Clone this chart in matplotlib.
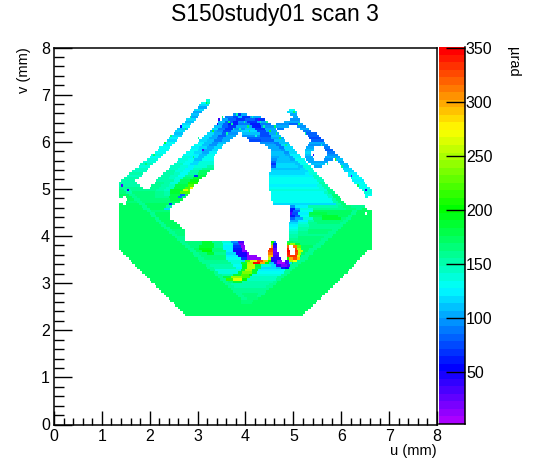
import colorsys

import numpy as np
import matplotlib
matplotlib.use("Agg")
import matplotlib.pyplot as plt
from matplotlib.colors import ListedColormap
from matplotlib.ticker import MultipleLocator

plt.rcParams['font.family'] = ['Liberation Sans', 'DejaVu Sans']

# Values, row by row. Each row covers the 0.05 mm below v.
# Row format: u0, value, u1, value, u2 ... with None for an empty gap.
X = None
rows_top = [
    (6.90, [3.16, 135, 3.27]),
    (6.85, [3.08, 130, 3.16, 150, 3.27]),
    (6.80, [3.04, 120, 3.24]),
    (6.75, [3.00, 105, 3.19]),
    (6.70, [2.95, 115, 3.14, X, 4.90, 130, 5.05]),
    (6.65, [2.91, 100, 3.10, X, 4.88, 115, 5.08]),
    (6.60, [2.86, 110, 3.05, X, 3.72, 95, 3.80, 70, 3.90, 100, 4.02, X, 4.95, 100, 5.08]),
    (6.55, [2.82, 105, 3.01, X, 3.58, 90, 3.75, 75, 3.85, 110, 3.95, 70, 4.10, 105, 4.32, X, 5.00, 105, 5.10]),
    (6.50, [2.77, 118, 2.96, X, 3.50, 100, 3.65, 80, 3.80, 65, 4.00, 85, 4.20, 70, 4.40, X, 4.95, 95, 5.12]),
    (6.45, [2.73, 110, 2.92, X, 3.44, 110, 3.58, 85, 3.72, 60, 3.85, 95, 4.05, 65, 4.25, 105, 4.47, X, 4.80, 100, 5.13]),
    (6.40, [2.68, 115, 2.87, X, 3.40, 105, 3.52, 80, 3.65, 60, 3.85, 90, 4.10, 60, 4.30, 90, 4.53, X, 4.63, 95, 4.90, 85, 5.10, X, 5.12, 100, 5.20]),
    (6.35, [2.63, 122, 2.84, X, 3.35, 110, 3.50, 85, 3.62, 65, 3.80, 100, 4.15, 62, 4.35, 95, 4.60, X, 4.62, 100, 4.90, X, 5.08, 95, 5.27]),
    (6.30, [2.58, 110, 2.79, X, 3.31, 115, 3.45, 90, 3.58, 70, 3.75, 95, 4.00, 110, 4.20, 70, 4.40, 105, 4.65, X, 4.68, 90, 4.80, X, 5.14, 100, 5.32]),
    (6.25, [2.54, 118, 2.75, X, 3.26, 105, 3.40, 95, 3.55, 75, 3.70, 100, 3.90, 120, 4.25, 72, 4.45, 100, 4.66, X, 5.20, 90, 5.38]),
    (6.20, [2.49, 112, 2.70, X, 3.20, 115, 3.35, 100, 3.50, 80, 3.65, 95, 3.85, X, 3.92, 110, 4.30, 75, 4.50, 105, 4.71, X, 5.26, 80, 5.50]),
    (6.15, [2.45, 120, 2.66, X, 3.15, 120, 3.30, 105, 3.45, 85, 3.60, 100, 3.80, X, 3.95, 95, 4.30, 78, 4.55, 110, 4.75, X, 5.30, 85, 5.53]),
    (6.10, [2.40, 125, 2.61, X, 3.10, 115, 3.25, 100, 3.40, 88, 3.55, 105, 3.73, X, 4.02, 85, 4.35, 80, 4.55, 105, 4.80, X, 5.34, 75, 5.58]),
    (6.05, [2.36, 120, 2.57, X, 3.05, 120, 3.20, 108, 3.35, 90, 3.50, 100, 3.66, X, 4.08, 75, 4.35, 85, 4.60, 110, 4.85, X, 5.38, 85, 5.63]),
    (6.00, [2.31, 128, 2.52, X, 2.99, 125, 3.15, 110, 3.30, 95, 3.45, 110, 3.59, X, 4.30, 95, 4.60, 88, 4.70, 112, 4.89, X, 5.33, 100, 5.68]),
    (5.95, [2.27, 122, 2.48, X, 2.94, 130, 3.10, 112, 3.25, 98, 3.40, 115, 3.52, X, 4.40, 100, 4.65, 90, 4.75, 115, 4.94, X, 5.30, 95, 5.72]),
    (5.90, [2.21, 128, 2.44, X, 2.88, 125, 3.05, 115, 3.20, 100, 3.35, 118, 3.49, X, 4.47, 100, 4.70, 92, 4.80, 120, 4.99, X, 5.26, 105, 5.45, X, 5.65, 90, 5.77]),
    (5.85, [2.16, 132, 2.39, X, 2.82, 128, 3.00, 118, 3.15, 102, 3.30, 120, 3.44, X, 4.52, 105, 4.75, 95, 4.85, 118, 5.03, X, 5.23, 110, 5.42, X, 5.68, 85, 5.82]),
    (5.80, [2.10, 128, 2.33, X, 2.77, 130, 2.95, 120, 3.10, 105, 3.25, 122, 3.40, X, 4.55, 108, 4.80, 98, 4.90, 120, 5.08, X, 5.22, 115, 5.38, X, 5.70, 90, 5.87]),
    (5.75, [2.05, 136, 2.28, X, 2.71, 132, 2.90, 122, 3.05, 108, 3.20, 128, 3.36, X, 4.55, 112, 4.85, 100, 4.95, 122, 5.13, X, 5.22, 110, 5.38, X, 5.70, 95, 5.92]),
    (5.70, [1.99, 132, 2.22, X, 2.66, 135, 2.85, 125, 3.00, 110, 3.15, 130, 3.35, X, 4.54, 105, 4.70, 112, 4.90, 102, 5.00, 125, 5.17, X, 5.24, 105, 5.40, X, 5.68, 100, 5.97]),
    (5.65, [1.93, 140, 2.16, X, 2.61, 138, 2.80, 128, 2.95, 112, 3.10, 132, 3.34, X, 4.53, 95, 4.68, 110, 4.95, 105, 5.05, 128, 5.22, X, 5.26, 100, 5.44, X, 5.64, 95, 5.85, X, 5.88, 110, 6.02]),
    (5.60, [1.87, 136, 2.12, X, 2.56, 140, 2.75, 130, 2.90, 115, 3.05, 135, 3.34, X, 4.53, 85, 4.65, 112, 5.00, 108, 5.10, 130, 5.26, X, 5.30, 105, 5.72, X, 5.93, 105, 6.07]),
    (5.55, [1.81, 144, 2.06, X, 2.50, 142, 2.70, 132, 2.85, 118, 3.00, 138, 3.33, X, 4.52, 70, 4.62, 115, 5.05, 110, 5.15, 132, 5.31, X, 5.36, 110, 5.66, X, 5.97, 110, 6.12]),
    (5.50, [1.76, 140, 2.01, X, 2.45, 145, 2.65, 135, 2.80, 122, 2.95, 140, 3.20, 150, 3.33, X, 4.52, 85, 4.65, 118, 5.10, 112, 5.20, 135, 5.36, X, 5.45, 105, 5.60, X, 6.00, 112, 6.17]),
    (5.45, [1.70, 148, 1.96, X, 2.39, 148, 2.60, 138, 2.75, 125, 2.90, 145, 3.10, 160, 3.32, X, 4.52, 110, 5.15, 115, 5.25, 138, 5.41, X, 6.05, 115, 6.22]),
    (5.40, [1.64, 145, 1.92, X, 2.34, 150, 2.55, 140, 2.70, 128, 2.85, 150, 3.05, 170, 3.27, X, 4.52, 115, 5.20, 118, 5.30, 140, 5.45, X, 6.08, 120, 6.27]),
    (5.35, [1.58, 152, 1.86, X, 2.28, 150, 2.50, 142, 2.65, 130, 2.80, 155, 3.00, 175, 3.21, X, 4.51, 120, 5.25, 122, 5.35, 140, 5.50, X, 6.12, 122, 6.32]),
    (5.30, [1.52, 148, 1.82, X, 2.23, 152, 2.45, 145, 2.60, 132, 2.75, 160, 2.95, 70, 3.00, 180, 3.16, X, 4.51, 125, 5.30, 125, 5.40, 142, 5.54, X, 6.15, 125, 6.37]),
    (5.25, [1.46, 152, 1.76, X, 2.18, 155, 2.40, 148, 2.55, 135, 2.70, 165, 2.90, 185, 3.11, X, 4.51, 130, 5.35, 128, 5.45, 145, 5.59, X, 6.20, 128, 6.42]),
    (5.20, [1.40, 150, 1.70, X, 2.15, 155, 2.35, 150, 2.50, 138, 2.65, 170, 2.85, 195, 3.05, X, 4.51, 132, 5.40, 130, 5.50, 148, 5.64, X, 6.24, 125, 6.47]),
    (5.15, [1.38, 152, 1.74, X, 2.10, 158, 2.30, 152, 2.45, 140, 2.60, 175, 2.80, 205, 3.00, X, 4.51, 128, 5.45, 132, 5.55, 150, 5.68, X, 6.28, 130, 6.51]),
    (5.10, [1.36, 155, 1.80, X, 2.05, 160, 2.25, 152, 2.40, 142, 2.55, 180, 2.80, 225, 2.95, X, 4.51, 125, 5.50, 135, 5.60, 152, 5.73, X, 6.32, 128, 6.55]),
    (5.05, [1.36, 160, 1.88, X, 2.00, 162, 2.20, 155, 2.35, 145, 2.50, 180, 2.72, 225, 2.82, 270, 2.90, X, 4.51, 130, 5.55, 138, 5.65, 155, 5.78, X, 6.37, 132, 6.60]),
    (5.00, [1.36, 165, 1.46, 152, 1.60, 160, 2.15, 155, 2.30, 145, 2.45, 185, 2.70, 265, 2.80, 230, 2.85, X, 4.51, 135, 5.60, 140, 5.70, 158, 5.82, X, 6.42, 135, 6.63]),
]
rows_mid = [
    (4.95, [1.36, 168, 1.51, 155, 1.65, 165, 2.10, 158, 2.30, 150, 2.45, 185, 2.65, 220, 2.83, X, 4.52, 130, 5.65, 142, 5.75, 160, 5.87, X, 6.47, 135, 6.65]),
    (4.90, [1.36, 170, 1.56, 156, 1.70, 166, 2.10, 160, 2.30, 155, 2.45, 180, 2.65, 85, 2.72, 170, 2.81, X, 4.53, 128, 5.70, 145, 5.80, 165, 5.92, X, 6.50, 130, 6.62]),
    (4.85, [1.36, 168, 1.45, X, 1.50, 170, 1.62, 156, 1.75, 168, 2.10, 162, 2.40, 178, 2.60, 90, 2.68, 165, 2.78, X, 4.54, 130, 5.75, 148, 5.85, 165, 5.97, X, 6.50, 135, 6.58]),
    (4.80, [1.36, X, 1.52, 170, 1.67, 158, 1.80, 168, 2.20, 165, 2.45, 178, 2.70, X, 4.55, 128, 5.80, 150, 5.90, 168, 6.01]),
    (4.75, [1.36, X, 1.50, 168, 1.72, 158, 1.85, 168, 2.30, 165, 2.45, 172, 2.63, X, 4.56, 130, 5.85, 152, 5.95, 168, 6.06]),
    (4.70, [1.36, 170, 1.42, X, 1.50, 170, 1.78, 158, 1.90, 170, 2.40, 70, 2.47, 160, 2.55, X, 4.57, 115, 4.70, 120, 5.90, 155, 6.00, 168, 6.10]),
    (4.65, [1.36, 170, 1.83, 160, 1.95, 170, 2.35, 150, 2.48, X, 4.92, 95, 5.05, 125, 5.30, 150, 5.95, 158, 6.05, 168, 6.20, 160, 6.50]),
    (4.60, [1.36, 170, 1.88, 160, 2.00, 170, 2.30, 120, 2.42, X, 4.93, 60, 5.02, 100, 5.15, 140, 5.40, 158, 6.00, 160, 6.10, 168, 6.31, 158, 6.42, 170, 6.55]),
    (4.55, [1.36, 170, 1.94, 160, 2.05, 168, 2.42, X, 4.93, 50, 5.00, 85, 5.12, 130, 5.40, 170, 6.25, 160, 6.35, 170, 6.64]),
    (4.50, [1.36, 170, 1.99, 160, 2.10, 170, 2.42, X, 4.92, 35, 4.98, 75, 5.10, 125, 5.35, 178, 5.70, 172, 6.20, 160, 6.30, 170, 6.50, X, 6.55, 170, 6.64]),
    (4.45, [1.36, 170, 2.04, 160, 2.15, 170, 2.42, X, 4.92, 60, 5.02, 85, 5.12, 130, 5.35, 172, 5.60, 188, 5.95, 170, 6.14, 160, 6.25, 170, 6.64]),
    (4.40, [1.36, 170, 2.10, 160, 2.20, 172, 2.44, X, 4.92, 80, 5.05, 105, 5.20, 140, 5.40, 168, 5.60, 190, 6.00, 165, 6.09, 160, 6.20, 170, 6.63]),
    (4.35, [1.36, 170, 2.15, 160, 2.25, 174, 2.50, X, 4.92, 100, 5.10, 125, 5.30, 155, 5.45, 168, 6.03, 160, 6.15, 170, 6.63]),
    (4.30, [1.36, 170, 2.20, 160, 2.30, 172, 2.56, X, 4.91, 115, 5.10, 135, 5.30, 160, 5.50, 165, 5.97, 158, 6.10, 170, 6.64]),
    (4.25, [1.36, 170, 2.25, 160, 2.35, 170, 2.62, X, 4.91, 125, 5.10, 145, 5.35, 162, 5.92, 158, 6.05, 170, 6.63]),
    (4.20, [1.36, 170, 2.31, 158, 2.42, 170, 2.67, X, 4.90, 130, 5.10, 150, 5.35, 162, 5.86, 156, 6.00, 170, 6.62]),
    (4.15, [1.36, 170, 2.36, 158, 2.47, 168, 2.72, X, 4.90, 140, 5.10, 155, 5.30, 165, 5.80, 156, 5.95, 170, 6.63]),
    (4.10, [1.36, 170, 2.41, 158, 2.52, 165, 2.73, X, 4.90, 145, 5.10, 158, 5.30, 165, 5.75, 156, 5.90, 170, 6.64]),
    (4.05, [1.36, 170, 2.47, 158, 2.58, 165, 2.73, X, 4.90, 150, 5.10, 162, 5.69, 156, 5.85, 170, 6.64]),
    (4.00, [1.36, 170, 2.52, 158, 2.63, 162, 2.73, X, 4.90, 155, 5.10, 165, 5.63, 156, 5.80, 170, 6.63]),
    (3.95, [1.36, 170, 2.57, 156, 2.68, 160, 2.73, X, 4.90, 160, 5.10, 168, 5.58, 156, 5.72, 170, 6.64]),
    (3.90, [1.36, 170, 2.63, 156, 2.75, 165, 3.10, 185, 3.30, 160, 3.50, 135, 3.70, 95, 3.85, 30, 3.96, X, 4.55, 200, 4.60, 90, 4.65, X, 4.87, 170, 5.00, 168, 5.52, 156, 5.68, 170, 6.65]),
    (3.85, [1.36, 170, 2.68, 156, 2.80, 166, 3.10, 188, 3.35, 160, 3.55, 130, 3.72, 85, 3.88, 20, 3.98, X, 4.53, 230, 4.58, 60, 4.67, X, 4.87, 215, 4.95, 245, 5.05, 190, 5.15, 168, 5.47, 156, 5.62, 170, 6.64]),
    (3.80, [1.36, 170, 2.73, 156, 2.85, 168, 3.05, 190, 3.35, 162, 3.55, 125, 3.72, 70, 3.90, 15, 3.99, X, 4.52, 300, 4.58, 40, 4.67, X, 4.87, 320, 4.90, X, 5.00, 310, 5.08, 230, 5.18, 172, 5.41, 158, 5.56, 170, 6.65]),
    (3.75, [1.36, 170, 2.79, 156, 2.92, 170, 3.05, 195, 3.30, 165, 3.55, 125, 3.75, 60, 3.92, 15, 4.00, X, 4.50, 335, 4.58, 25, 4.68, X, 4.87, 340, 4.90, X, 5.02, 325, 5.08, 250, 5.18, 174, 5.35, 158, 5.50, 170, 6.62]),
    (3.70, [1.40, 170, 2.84, 156, 2.97, 170, 3.10, 198, 3.30, 165, 3.60, 125, 3.75, 50, 3.95, 12, 4.02, X, 4.48, 330, 4.58, 20, 4.68, X, 4.87, 345, 4.92, X, 5.02, 335, 5.10, 255, 5.20, 174, 5.30, 158, 5.45, 170, 6.55]),
    (3.65, [1.45, 170, 2.89, 156, 3.02, 168, 3.20, 188, 3.35, 160, 3.60, 120, 3.80, 45, 4.02, 12, 4.08, X, 4.47, 310, 4.56, 25, 4.69, X, 4.87, 340, 4.95, X, 5.02, 330, 5.10, 250, 5.18, 170, 5.24, 158, 5.40, 170, 6.50]),
    (3.60, [1.50, 170, 2.95, 156, 3.08, 165, 3.60, 125, 3.85, 50, 4.05, 10, 4.24, X, 4.47, 290, 4.56, 35, 4.70, X, 4.86, 335, 5.08, 265, 5.15, 185, 5.18, 158, 5.35, 170, 6.45]),
    (3.55, [1.55, 170, 3.00, 156, 3.13, 165, 3.60, 130, 3.90, 70, 4.05, 15, 4.33, X, 4.46, 260, 4.55, 40, 4.72, X, 4.86, 200, 4.90, 300, 5.00, 330, 5.08, 290, 5.13, 158, 5.30, 170, 6.40]),
    (3.50, [1.60, 170, 3.05, 156, 3.18, 162, 3.65, 135, 3.95, 120, 4.00, 225, 4.10, 265, 4.22, 330, 4.38, 290, 4.46, 200, 4.52, 50, 4.68, 10, 4.78, X, 4.84, 30, 4.90, 250, 5.00, 270, 5.07, 158, 5.22, 170, 6.35]),
    (3.45, [1.65, 170, 3.10, 156, 3.23, 160, 3.70, 135, 3.90, 190, 4.05, 250, 4.18, 345, 4.30, 300, 4.40, 200, 4.50, 110, 4.60, 40, 4.66, 5, 4.85, 30, 4.90, 120, 4.96, 190, 5.01, 158, 5.16, 170, 6.30]),
    (3.40, [1.70, 170, 3.16, 156, 3.28, 155, 3.75, 130, 3.92, 195, 4.05, 255, 4.20, 190, 4.35, 135, 4.55, 120, 4.65, 40, 4.75, 20, 4.87, 30, 4.95, 158, 5.10, 170, 6.28]),
    (3.35, [1.75, 170, 3.21, 156, 3.33, 150, 3.80, 125, 3.95, 195, 4.05, 255, 4.20, 180, 4.32, 120, 4.62, 110, 4.72, 60, 4.85, 55, 4.90, 158, 5.05, 170, 6.23]),
]
rows_low = [
    (3.30, [1.80, 170, 3.26, 156, 3.38, 135, 3.90, 190, 4.00, 250, 4.15, 190, 4.28, 125, 4.72, 130, 4.84, 158, 4.97, 170, 6.18]),
    (3.25, [1.85, 170, 3.32, 156, 3.45, 140, 3.82, 185, 3.95, 235, 4.12, 190, 4.22, 130, 4.79, 158, 4.92, 170, 6.13]),
    (3.20, [1.90, 170, 3.37, 156, 3.50, 150, 3.75, 190, 3.90, 225, 4.08, 200, 4.15, 140, 4.73, 158, 4.86, 170, 6.08]),
    (3.15, [1.95, 170, 3.42, 158, 3.55, 180, 3.70, 240, 3.95, 225, 4.10, 145, 4.67, 158, 4.80, 170, 6.03]),
    (3.10, [2.00, 170, 3.48, 158, 3.60, 215, 3.75, 262, 3.95, 200, 4.05, 145, 4.62, 158, 4.74, 170, 5.97]),
    (3.05, [2.05, 170, 3.53, 158, 3.65, 165, 3.75, 190, 3.95, 150, 4.56, 160, 4.68, 170, 5.92]),
    (3.00, [2.10, 170, 3.58, 158, 3.70, 155, 4.50, 160, 4.62, 170, 5.87]),
    (2.95, [2.15, 170, 3.64, 158, 3.76, 155, 4.45, 160, 4.57, 170, 5.82]),
    (2.90, [2.20, 170, 3.69, 158, 3.81, 158, 4.39, 160, 4.50, 170, 5.77]),
    (2.85, [2.25, 170, 3.75, 160, 3.87, 162, 4.34, 160, 4.45, 170, 5.72]),
    (2.80, [2.30, 170, 3.80, 160, 3.92, 165, 4.28, 162, 4.40, 170, 5.67]),
    (2.75, [2.35, 170, 3.85, 162, 3.97, 168, 4.22, 162, 4.34, 170, 5.61]),
    (2.70, [2.40, 170, 3.90, 162, 4.02, 168, 4.17, 164, 4.28, 170, 5.56]),
    (2.65, [2.45, 170, 3.90, 164, 4.18, 170, 5.51]),
    (2.60, [2.50, 170, 3.90, 166, 4.15, 170, 5.46]),
    (2.55, [2.55, 170, 5.41]),
    (2.50, [2.60, 170, 5.36]),
    (2.45, [2.65, 170, 5.30]),
    (2.40, [2.70, 170, 5.25]),
    (2.35, [2.75, 170, 5.20]),
]

# single odd cells along the noisy upper edges
speckle_u = [3.17, 2.74, 3.52, 3.70, 3.98, 4.15, 4.37, 4.52, 3.31, 4.05, 3.88, 4.72, 5.02, 5.13, 5.58, 5.88, 6.02, 6.21, 2.33, 2.08, 3.12, 2.92, 4.22, 3.60,
             3.46, 3.64, 3.80, 4.28, 4.44, 4.60, 2.86, 2.64, 2.45, 3.03, 3.40, 3.74, 4.10, 4.33, 4.66, 4.84, 5.24, 5.42, 5.70, 6.35, 6.50, 1.42, 1.55, 1.90]
speckle_v = [6.83, 6.28, 6.52, 6.38, 6.41, 6.50, 6.33, 6.22, 6.22, 6.30, 6.28, 6.07, 6.62, 6.38, 5.92, 5.63, 5.45, 5.28, 5.95, 5.72, 5.85, 5.68, 6.12, 6.18,
             6.47, 6.44, 6.56, 6.48, 6.42, 6.30, 6.52, 6.35, 6.12, 6.05, 6.36, 6.26, 6.24, 6.40, 6.18, 5.92, 6.16, 5.70, 5.52, 5.10, 4.98, 5.08, 4.98, 5.52]
speckle_val = [190, 175, 165, 160, 150, 145, 155, 185, 190, 175, 155, 180, 170, 165, 140, 215, 160, 25, 190, 175, 30, 165, 140, 150,
               40, 170, 150, 35, 160, 170, 160, 60, 165, 150, 45, 155, 170, 150, 165, 160, 150, 45, 150, 170, 50, 35, 45, 165]

cbar_ticks = [50, 100, 150, 200, 250, 300, 350]
z_min, z_max = 2, 351

# grid of the histogram
u_edges = np.linspace(0, 8, 241)
v_edges = np.linspace(2.30, 6.90, 93)
u_mid = 0.5 * (u_edges[:-1] + u_edges[1:])
z = np.full((len(v_edges) - 1, len(u_edges) - 1), np.nan)

for v, row in rows_top + rows_mid + rows_low:
    j = int(round((v - 2.35) / 0.05))
    for k in range(1, len(row), 2):
        if row[k] is None or row[k - 1] is None or row[k + 1] is None:
            continue
        z[j, (u_mid >= row[k - 1]) & (u_mid < row[k + 1])] = row[k]

for u, v, val in zip(speckle_u, speckle_v, speckle_val):
    z[int((v - 2.30) / 0.05), int(u / (8 / 240))] = val

# ROOT's old pretty palette: 50 hues, violet to red
palette = ListedColormap([colorsys.hsv_to_rgb(280 / 360 * (1 - i / 49), 1, 1) for i in range(50)])

W, H = 546, 472
fig = plt.figure(figsize=(W / 100, H / 100), dpi=100)
ax = fig.add_axes([54 / W, (H - 424.5) / H, 383 / W, 377 / H])
mesh = ax.pcolormesh(u_edges, v_edges, np.ma.masked_invalid(z), cmap=palette, vmin=z_min, vmax=z_max)

ax.set_xlim(0, 8)
ax.set_ylim(0, 8)
ax.xaxis.set_major_locator(MultipleLocator(1))
ax.xaxis.set_minor_locator(MultipleLocator(0.2))
ax.yaxis.set_major_locator(MultipleLocator(1))
ax.yaxis.set_minor_locator(MultipleLocator(0.2))
ax.tick_params(axis='x', which='major', direction='in', length=10, width=1, labelsize=11.5, pad=3)
ax.tick_params(axis='x', which='minor', direction='in', length=5, width=1)
ax.tick_params(axis='y', which='major', direction='in', length=13, width=1, labelsize=11.5, pad=3)
ax.tick_params(axis='y', which='minor', direction='in', length=7, width=1)
for spine in ax.spines.values():
    spine.set_linewidth(1.1)

cax = fig.add_axes([439 / W, (H - 424) / H, 25.5 / W, 377 / H])
cbar = fig.colorbar(mesh, cax=cax)
cbar.set_ticks(cbar_ticks)
cbar.minorticks_off()
cax.tick_params(direction='in', length=14, width=1, labelsize=11.5, pad=1, colors='black')
cbar.outline.set_visible(False)
cax.plot([1, 1], [0, 1], transform=cax.transAxes, color='black', lw=1.1, clip_on=False)
cax.plot([0, 1], [0, 0], transform=cax.transAxes, color='black', lw=1.1, clip_on=False)

fig.text(275 / W, 1 - 15 / H, "S150study01 scan 3", ha='center', va='center', fontsize=16.5)
fig.text(437 / W, 1 - 451 / H, "u (mm)", ha='right', va='center', fontsize=10.5)
fig.text(24 / W, 1 - 47 / H, "v (mm)", ha='center', va='top', rotation=90, fontsize=10.5)
fig.text(513 / W, 1 - 47 / H, "µrad", ha='center', va='top', rotation=270, fontsize=10.5)

fig.savefig("out.png", dpi=100)
